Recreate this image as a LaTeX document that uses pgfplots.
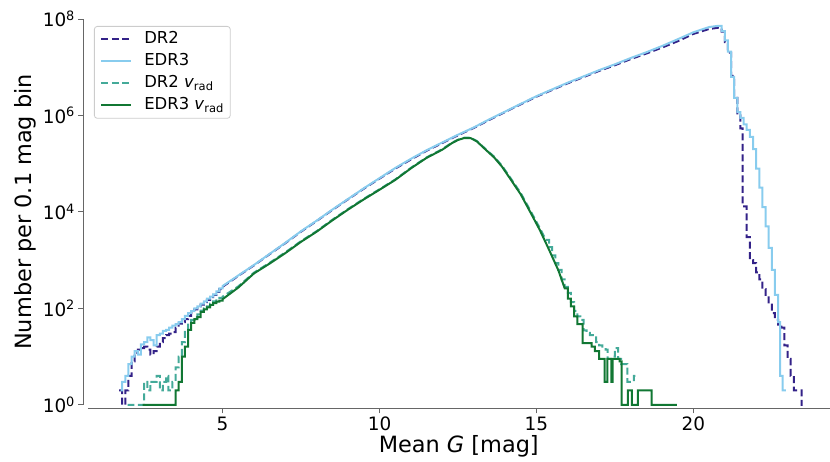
\documentclass[border=0pt]{standalone}
\usepackage{fontspec}
\setmainfont{DejaVu Sans}
\usepackage{pgfplots}
\pgfplotsset{compat=1.18}
\definecolor{cDR}{HTML}{332288}
\definecolor{cED}{HTML}{88CCEE}
\definecolor{cDRv}{HTML}{44AA99}
\definecolor{cEDv}{HTML}{117733}
\begin{document}
\begin{tikzpicture}
\begin{axis}[
  scale only axis, width=742bp, height=386bp,
  xmin=0.71, xmax=24.34,
  ymode=log, ymin=1, ymax=1e8, yminorticks=false,
  clip=false,
  axis x line*=bottom, axis y line*=left,
  x axis line style={-, black!60, line width=0.8bp, yshift=-4bp},
  y axis line style={-, black!60, line width=0.8bp, xshift=-5bp},
  tick align=outside, major tick length=4.5bp,
  xtick={5,10,15,20},
  ytick={1,100,10000,1000000,100000000},
  yticklabels={10\textsuperscript{0},10\textsuperscript{2},10\textsuperscript{4},10\textsuperscript{6},10\textsuperscript{8}},
  xtick style={black!60, line width=0.8bp, yshift=-4bp},
  ytick style={black!60, line width=0.8bp, xshift=-5bp},
  xticklabel style={yshift=-4bp},
  yticklabel style={xshift=-5bp},
  /pgf/number format/assume math mode=true,
  tick label style={font=\fontsize{18.5}{20}\selectfont},
  label style={font=\fontsize{22.5}{25}\selectfont},
  xlabel={Mean \textit{G} [mag]},
  ylabel={Number per 0.1 mag bin},
  xlabel style={yshift=2bp},
  legend style={at={(0,1)}, anchor=north west, xshift=6bp, yshift=-7bp,
    draw=black!20, line width=0.8bp, rounded corners=3bp, fill=white,
    font=\fontsize{16.5}{18}\selectfont, inner xsep=6bp, inner ysep=5bp,
    nodes={inner sep=0bp, text height=12bp, text depth=4bp},
    row sep=6bp, column sep=0bp,
    /tikz/every odd column/.append style={column sep=12bp},
    cells={anchor=west}},
  legend image code/.code={\draw[#1,line width=2bp] (0bp,0bp) -- (30bp,0bp);},
]
\coordinate (O) at (rel axis cs:0,0);

% DR2
\addplot[cDR, line width=2bp, dash pattern=on 7bp off 3.5bp] coordinates {
(1.7,2)(1.8,2)(1.8,1)(1.9,1)(1.9,2)(2.0,2)(2.0,4)(2.1,4)(2.1,8)(2.2,8)(2.2,12)(2.3,12)
(2.3,14)(2.4,14)(2.4,15)(2.5,15)(2.5,16)(2.6,16)(2.6,14)(2.7,14)(2.7,11)(2.8,11)
(2.8,13)(2.9,13)(2.9,16)(3.0,16)(3.0,20)(3.1,20)(3.1,24)(3.2,24)(3.2,28)(3.3,28)
(3.3,30)(3.4,30)(3.4,32)(3.5,32)(3.5,40)(3.6,40)(3.6,48)(3.7,48)(3.7,52)(3.8,52)
(3.8,60)(3.9,60)(3.9,70)(4.0,70)(4.0,82)(4.1,82)(4.1,95)(4.2,95)(4.2,110)(4.3,110)
(4.3,120)(4.4,120)(4.4,135)(4.5,135)(4.5,150)(4.6,150)(4.6,170)(4.7,170)(4.7,190)(4.8,190)
(4.8,220)(4.9,220)(4.9,250)(5.0,250)(5.0,280)
(5.5,470)(6.0,780)(6.5,1330)(7.0,2250)(7.5,3900)(8.0,6500)(8.5,11000)(9.0,18300)
(9.5,30300)(10.0,49000)(10.5,79000)(11.0,122000)(11.5,185000)(12.0,268000)(12.5,388000)
(13.0,550000)(13.5,8.1e5)(14.0,1.18e6)(14.5,1.70e6)(15.0,2.45e6)(15.5,3.38e6)(16.0,4.65e6)
(16.5,6.25e6)(17.0,8.4e6)(17.5,1.10e7)(18.0,1.47e7)(18.5,1.92e7)(19.0,2.55e7)(19.5,3.45e7)
(20.0,4.9e7)(20.5,6.2e7)(20.8,6.6e7)
(20.9,6.6e7)(20.9,5.5e7)(21.0,5.5e7)(21.0,3.3e7)(21.1,3.3e7)(21.1,2.0e7)(21.2,2.0e7)
(21.2,6.6e6)(21.3,6.6e6)(21.3,2.6e6)(21.4,2.6e6)(21.4,1.0e6)(21.5,1.0e6)(21.5,5.4e5)
(21.57,5.4e5)(21.57,1.3e4)(21.7,1.3e4)(21.7,3000)(21.8,3000)(21.8,1000)(21.9,1000)
(21.9,870)(22.0,870)(22.0,560)(22.1,560)(22.1,400)(22.2,400)(22.2,250)(22.3,250)
(22.3,180)(22.4,180)(22.4,120)(22.5,120)(22.5,80)(22.6,80)(22.6,58)(22.7,58)
(22.7,46)(22.8,46)(22.8,40)(22.9,40)(22.9,17)(23.0,17)(23.0,9)(23.1,9)(23.1,4)(23.2,4)
(23.2,2)(23.45,2)(23.45,1)(23.48,1)
};
\addlegendentry{\makebox[80bp][l]{DR2}}

% EDR3
\addplot[cED, line width=2bp] coordinates {
(1.75,2)(1.8,2)(1.8,3)(1.9,3)(1.9,4)(2.0,4)(2.0,7)(2.1,7)(2.1,10)(2.2,10)(2.2,13)(2.3,13)
(2.3,11)(2.4,11)(2.4,18)(2.5,18)(2.5,20)(2.6,20)(2.6,25)(2.7,25)(2.7,22)(2.8,22)
(2.8,17)(2.9,17)(2.9,28)(3.0,28)(3.0,30)(3.1,30)(3.1,34)(3.2,34)(3.2,36)(3.3,36)
(3.3,40)(3.4,40)(3.4,44)(3.5,44)(3.5,47)(3.6,47)(3.6,52)(3.7,52)(3.7,60)(3.8,60)
(3.8,70)(3.9,70)(3.9,80)(4.0,80)(4.0,88)(4.1,88)(4.1,100)(4.2,100)(4.2,110)(4.3,110)
(4.3,125)(4.4,125)(4.4,140)(4.5,140)(4.5,160)(4.6,160)(4.6,175)(4.7,175)(4.7,195)(4.8,195)
(4.8,225)(4.9,225)(4.9,260)(5.0,260)(5.0,290)
(5.5,480)(6.0,794)(6.5,1350)(7.0,2290)(7.5,3980)(8.0,6600)(8.5,11200)(9.0,18600)
(9.5,30900)(10.0,50100)(10.5,81300)(11.0,126000)(11.5,190000)(12.0,275000)(12.5,398000)
(13.0,562000)(13.5,832000)(14.0,1.20e6)(14.5,1.74e6)(15.0,2.51e6)(15.5,3.47e6)(16.0,4.79e6)
(16.5,6.46e6)(17.0,8.71e6)(17.5,1.15e7)(18.0,1.55e7)(18.5,2.04e7)(19.0,2.75e7)(19.5,3.80e7)
(20.0,5.3e7)(20.5,6.8e7)(20.8,7.24e7)
(20.9,7.24e7)(20.9,5.6e7)(21.0,5.6e7)(21.0,3.6e7)(21.1,3.6e7)(21.1,2.1e7)(21.2,2.1e7)
(21.2,6.3e6)(21.3,6.3e6)(21.3,2.3e6)(21.4,2.3e6)(21.4,1.17e6)(21.5,1.17e6)(21.5,8.9e5)
(21.6,8.9e5)(21.6,6.5e5)(21.7,6.5e5)(21.7,5.0e5)(21.8,5.0e5)(21.8,3.6e5)(21.9,3.6e5)
(21.9,2.0e5)(22.0,2.0e5)(22.0,7.9e4)(22.1,7.9e4)(22.1,3.2e4)(22.2,3.2e4)(22.2,1.26e4)
(22.3,1.26e4)(22.3,5000)(22.4,5000)(22.4,1800)(22.5,1800)(22.5,630)(22.6,630)
(22.6,190)(22.7,190)(22.7,52)(22.76,52)(22.76,4)(22.84,4)(22.84,2)(22.95,2)
};
\addlegendentry{\makebox[80bp][l]{EDR3}}

% DR2 vrad
\addplot[cDRv, line width=2bp, dash pattern=on 7bp off 3.5bp] coordinates {
(1.97,1)(2.5,1)(2.5,3)(2.6,3)(2.6,2)(2.7,2)(2.7,3)(2.9,3)(2.9,4)(3.0,4)(3.0,2)(3.1,2)
(3.1,3)(3.2,3)(3.2,4)(3.27,4)(3.27,2)(3.4,2)(3.4,3)(3.5,3)(3.5,6)(3.6,6)(3.6,10)(3.7,10)
(3.7,20)(3.8,20)(3.8,36)(3.9,36)(3.9,50)(4.0,50)(4.0,58)(4.1,58)(4.1,65)(4.2,65)
(4.2,75)(4.3,75)(4.3,90)(4.4,90)(4.4,100)(4.5,100)(4.5,110)(4.6,110)(4.6,125)(4.7,125)
(4.7,140)(4.8,140)(4.8,155)(4.9,155)(4.9,165)(5.0,165)(5.0,175)
(5.5,285)(6.0,550)(6.5,880)(7.0,1450)(7.5,2480)(8.0,4000)(8.5,6900)(9.0,11500)
(9.5,18700)(10.0,29500)(10.5,47000)(11.0,82000)(11.5,135000)(12.0,200000)(12.3,270000)
(12.5,315000)(12.7,345000)(12.9,345000)(13.1,295000)(13.4,195000)(13.65,140000)
(13.9,91000)(14.2,47500)(14.5,24500)(14.8,10800)(15.1,4700)(15.3,2630)
(15.4,2630)(15.4,1860)(15.5,1860)(15.5,1260)(15.6,1260)(15.6,870)(15.7,870)(15.7,630)
(15.8,630)(15.8,400)(15.9,400)(15.9,280)(16.0,280)(16.0,210)(16.1,210)(16.1,135)
(16.2,135)(16.2,89)(16.3,89)(16.3,68)(16.4,68)(16.4,58)(16.5,58)(16.5,35)(16.6,35)
(16.6,31)(16.7,31)(16.7,28)(16.8,28)(16.8,25)(16.9,25)(16.9,20)(17.0,20)(17.0,17)
(17.1,17)(17.1,15)(17.2,15)(17.2,14)(17.27,14)(17.27,9)(17.4,9)(17.4,10)(17.5,10)
(17.5,15)(17.6,15)(17.6,9)(17.7,9)(17.7,7)(17.9,7)(17.9,3)(18.1,3)(18.1,4)(18.2,4)
};
\addlegendentry{\makebox[80bp][l]{DR2 \textit{v}\textsubscript{rad}}}

% EDR3 vrad
\addplot[cEDv, line width=2bp] coordinates {
(2.45,1)(3.5,1)(3.5,2)(3.6,2)(3.6,3)(3.7,3)(3.7,10)(3.8,10)(3.8,16)(3.9,16)(3.9,36)(4.0,36)
(4.0,50)(4.1,50)(4.1,60)(4.2,60)(4.2,66)(4.3,66)(4.3,85)(4.4,85)(4.4,95)(4.5,95)
(4.5,105)(4.6,105)(4.6,118)(4.7,118)(4.7,128)(4.8,128)(4.8,138)(4.9,138)(4.9,145)(5.0,145)
(5.0,155)
(5.5,270)(6.0,530)(6.5,850)(7.0,1400)(7.5,2400)(8.0,3900)(8.5,6700)(9.0,11200)
(9.5,18200)(10.0,28800)(10.5,46000)(11.0,80000)(11.5,132000)(12.0,195000)(12.3,265000)
(12.5,310000)(12.7,340000)(12.9,340000)(13.1,290000)(13.4,190000)(13.65,135000)
(13.9,87000)(14.2,45000)(14.5,23000)(14.8,10000)(15.1,4300)(15.4,1650)(15.7,610)(15.9,260)
(16.0,260)(16.0,160)(16.1,160)(16.1,110)(16.2,110)(16.2,68)(16.3,68)(16.3,47)(16.47,47)
(16.47,19)(16.76,19)(16.76,16)(16.86,16)(16.86,13)(17.0,13)(17.0,9)(17.17,9)(17.17,3)
(17.26,3)(17.26,9)(17.39,9)(17.39,3)(17.43,3)(17.43,9)(17.65,9)(17.65,8)(17.71,8)
(17.71,1)(17.91,1)(17.91,2)(18.04,2)(18.04,1)(18.23,1)(18.23,2)(18.67,2)(18.67,1)(19.47,1)
};
\addlegendentry{\makebox[80bp][l]{EDR3 \textit{v}\textsubscript{rad}}}
\end{axis}
\path (O) ++(-88bp,-57bp) rectangle ++(830bp,462bp);
\end{tikzpicture}
\end{document}
